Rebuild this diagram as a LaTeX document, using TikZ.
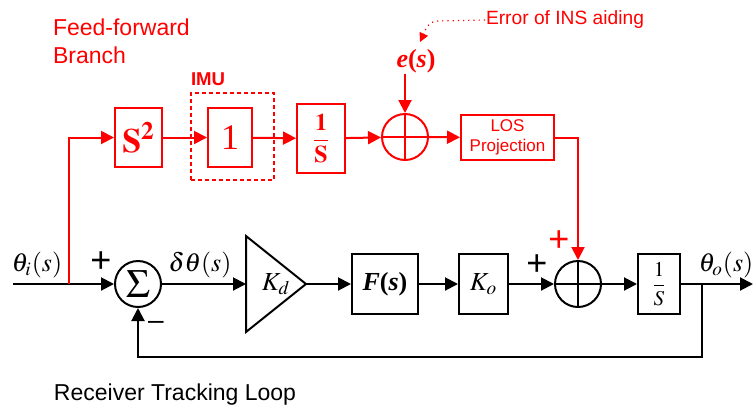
\documentclass[tikz,border=0pt]{standalone}
\usepackage{amsmath}
\usepackage{mathptmx}
\usepackage[no-math]{fontspec}
\setmainfont{Liberation Serif}
\setsansfont{Liberation Sans}
\definecolor{FFcol}{HTML}{FF0000}
\definecolor{Loopcol}{HTML}{000000}
\usetikzlibrary{calc, arrows.meta, positioning}
\tikzset{
    >={Triangle[length=6.5pt,width=6.5pt]},
    block/.style={draw, rectangle, inner sep=0pt},
    sumcross/.style={draw, circle, inner sep=0pt, minimum size=23pt,
        path picture={\draw (path picture bounding box.north) -- (path picture bounding box.south)
                            (path picture bounding box.west) -- (path picture bounding box.east);}},
    sumsigma/.style={draw, circle, inner sep=0pt, minimum size=23pt},
    imubox/.style={draw, dashed, dash pattern=on 2pt off 1.5pt, rectangle, inner sep=0pt,
        minimum width=41.5pt, minimum height=43.5pt},
    signlbl/.style={inner sep=0pt, font=\sffamily\fontsize{18}{18}\selectfont},
    mathlbl/.style={inner sep=0pt, font=\fontsize{13}{15}\selectfont},
    txtlbl/.style={inner sep=0pt, font=\sffamily\fontsize{11.5}{14}\selectfont}
}

\begin{document}
\begin{tikzpicture}[x=0.5pt, y=0.5pt, line width=1pt]
    \useasboundingbox (0,0) rectangle (754,-408);

    % Receiver tracking loop
    \begin{scope}[Loopcol]
        \coordinate (in) at (13,-284);
        \coordinate (split) at (69,-284);
        \node[sumsigma] (sum1) at (138,-284) {\fontsize{20}{20}\selectfont$\Sigma$};
        \node[inner sep=0pt, minimum width=29pt, minimum height=47pt] (Kd) at (276,-284) {\fontsize{13}{15}\selectfont$K_d$\hspace{5pt}};
        \draw (Kd.north west) -- (Kd.east) -- (Kd.south west) -- cycle;
        \node[block, minimum width=33pt, minimum height=30pt] (F) at (385,-284)
            {\fontsize{13}{15}\selectfont\textbf{\textit{F}(\textit{s})}};
        \node[block, minimum width=24.5pt, minimum height=30pt] (Ko) at (483.5,-284)
            {\fontsize{13}{15}\selectfont$K_o$};
        \node[sumcross] (sum2) at (578,-284) {};
        \node[block, minimum width=21pt, minimum height=30pt] (integ) at (659,-284)
            {\fontsize{10.5}{12}\selectfont$\dfrac{1}{S}$};
        \coordinate (tap) at (702,-284);
        \coordinate (out) at (753,-284);
        \coordinate (fb) at (138,-357);

        \draw[->] (in) -- (sum1);
        \draw[->] (sum1) -- (Kd.west);
        \draw[->] (Kd.east) -- (F);
        \draw[->] (F) -- (Ko);
        \draw[->] (Ko) -- (sum2);
        \draw[->] (sum2) -- (integ);
        \draw[->] (integ) -- (out);
        \draw[->] (tap) |- (fb) -- (sum1.south);

        \node[mathlbl] (thetai) at (37,-265) {$\theta_i(s)$};
        \node[mathlbl] (dtheta) at (200,-265) {$\delta\theta(s)$};
        \node[mathlbl] (thetao) at (726,-265) {$\theta_o(s)$};
        \node[signlbl] (plus1) at (101,-262) {+};
        \node[inner sep=0pt, font=\sffamily\fontsize{14}{14}\selectfont] (minus1) at (156,-325) {--};
        \node[signlbl] (plus2) at (537,-265) {+};
        \node[txtlbl] (looplbl) at (175,-395) {Receiver Tracking Loop};
    \end{scope}

    % Feed-forward branch
    \begin{scope}[FFcol]
        \node[block, minimum width=23.5pt, minimum height=29.5pt] (S2) at (138.5,-137.5)
            {\fontsize{17}{17}\selectfont$\mathbf{S^2}$};
        \node[imubox] (imu) at (232.5,-136.5) {};
        \node[block, minimum width=22pt, minimum height=29.5pt] (one) at (230,-137.5)
            {\fontsize{18}{18}\selectfont 1};
        \node[block, minimum width=24pt, minimum height=34.5pt] (inv) at (321,-138.5)
            {\fontsize{12}{12}\selectfont$\mathbf{\dfrac{1}{S}}$};
        \node[sumcross] (sum3) at (405,-137) {};
        \node[block, minimum width=46.5pt, minimum height=22.5pt, align=center,
              font=\sffamily\fontsize{8.5}{10}\selectfont] (los) at (507.5,-137.5) {LOS\\Projection};
        \node[inner sep=0pt, font=\fontsize{13}{15}\selectfont] (es) at (416,-61)
            {\textbf{\textit{e}(\textit{s})}};
        \node[inner sep=0pt, font=\sffamily\fontsize{9.6}{11}\selectfont] (err) at (565,-20) {Error of INS aiding};
        \coordinate (errtip) at (420,-42);

        \draw[->] (split) |- (S2);
        \draw[->] (S2) -- (one);
        \draw[->] (one) -- (inv);
        \draw[->] (inv) -- (sum3);
        \draw[->] (sum3) -- (los);
        \draw[->] (los) -| (sum2);
        \draw[->] (es.south -| sum3.north) -- (sum3);
        \draw[-{Triangle[length=4.5pt,width=4.5pt]}, dotted, line width=0.6pt]
            (err.west) -- (438,-21) to[out=180, in=65] (errtip);

        \node[inner sep=0pt, anchor=south west, font=\sffamily\bfseries\fontsize{9.3}{11}\selectfont]
            (imulbl) at ([yshift=2.5pt]imu.north west) {IMU};
        \node[signlbl] (plus3) at (559,-241) {+};
        \node[txtlbl, anchor=west, align=left] (fflbl) at (52,-41) {Feed-forward\\Branch};
    \end{scope}
\end{tikzpicture}
\end{document}
